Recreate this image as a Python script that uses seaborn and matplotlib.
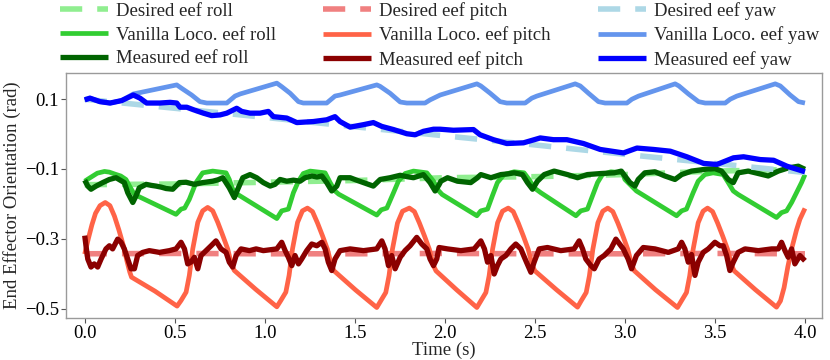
import matplotlib
matplotlib.use("Agg")
import matplotlib.pyplot as plt
import seaborn as sns
import numpy as np

# ---------------- data ----------------
# Desired trajectories
t_des = [0.0, 0.5, 1.0, 1.5, 2.0, 2.5, 3.0, 3.5, 4.0]
des_roll = [-0.145, -0.143, -0.138, -0.133, -0.125, -0.122, -0.116, -0.106, -0.101]
des_pitch = [-0.343, -0.342, -0.343, -0.343, -0.342, -0.343, -0.343, -0.342, -0.343]
des_yaw = [0.100, 0.074, 0.048, 0.021, -0.005, -0.031, -0.058, -0.084, -0.110]

# Vanilla locomotion
t_van_roll = [0.0, 0.03, 0.07, 0.11, 0.137, 0.17, 0.2, 0.229, 0.25, 0.276, 0.507,
              0.535, 0.555, 0.581, 0.618, 0.655, 0.711, 0.785, 0.803, 0.822, 0.85, 1.067,
              1.094, 1.131, 1.159, 1.187, 1.214, 1.252, 1.335, 1.363, 1.39, 1.41, 1.622,
              1.647, 1.678, 1.715, 1.742, 1.779, 1.826, 1.9, 1.937, 1.965, 1.985, 2.178,
              2.2, 2.237, 2.264, 2.292, 2.329, 2.385, 2.44, 2.468, 2.496, 2.533, 2.728,
              2.755, 2.792, 2.82, 2.848, 2.875, 2.922, 2.987, 3.0, 3.037, 3.064, 3.287,
              3.315, 3.342, 3.379, 3.407, 3.444, 3.49, 3.546, 3.574, 3.602, 3.629, 3.842,
              3.87, 3.898, 3.926, 3.953, 3.981, 4.0]
van_roll = [-0.135, -0.125, -0.112, -0.107, -0.109, -0.115, -0.120, -0.130, -0.150, -0.173, -0.230,
            -0.215, -0.212, -0.187, -0.139, -0.111, -0.106, -0.111, -0.130, -0.158, -0.173, -0.242,
            -0.220, -0.215, -0.168, -0.135, -0.113, -0.106, -0.111, -0.139, -0.163, -0.172, -0.232,
            -0.217, -0.212, -0.168, -0.135, -0.113, -0.106, -0.111, -0.135, -0.162, -0.173, -0.234,
            -0.220, -0.215, -0.177, -0.139, -0.116, -0.108, -0.111, -0.130, -0.154, -0.168, -0.234,
            -0.220, -0.215, -0.177, -0.139, -0.116, -0.108, -0.111, -0.130, -0.149, -0.163, -0.234,
            -0.220, -0.215, -0.168, -0.135, -0.116, -0.111, -0.116, -0.139, -0.163, -0.173, -0.239,
            -0.225, -0.220, -0.196, -0.168, -0.139, -0.116]

t_van_pitch = [0.0, 0.02, 0.04, 0.06, 0.085, 0.114, 0.14, 0.165, 0.19, 0.215, 0.235, 0.25, 0.26, 0.39, 0.513,
               0.535, 0.563, 0.581, 0.60, 0.628, 0.655, 0.683, 0.711, 0.739, 0.767, 0.794, 0.817, 0.831, 0.95, 1.067,
               1.089, 1.117, 1.135, 1.154, 1.182, 1.209, 1.237, 1.265, 1.293, 1.321, 1.348, 1.371, 1.385, 1.505, 1.622,
               1.644, 1.672, 1.690, 1.709, 1.737, 1.765, 1.803, 1.831, 1.859, 1.887, 1.914, 1.937, 1.951, 2.065, 2.178,
               2.20, 2.228, 2.246, 2.265, 2.293, 2.32, 2.352, 2.38, 2.408, 2.436, 2.463, 2.486, 2.50, 2.62, 2.737,
               2.757, 2.785, 2.803, 2.822, 2.85, 2.877, 2.905, 2.933, 2.961, 2.989, 3.016, 3.039, 3.053, 3.17, 3.292,
               3.314, 3.342, 3.36, 3.379, 3.407, 3.434, 3.459, 3.487, 3.515, 3.543, 3.57, 3.593, 3.607, 3.725, 3.842,
               3.864, 3.884, 3.905, 3.926, 3.953, 3.972, 4.0]
van_pitch = [-0.344, -0.300, -0.260, -0.227, -0.205, -0.196, -0.205, -0.235, -0.275, -0.320, -0.365, -0.395, -0.410, -0.450, -0.493,
             -0.477, -0.453, -0.405, -0.329, -0.253, -0.220, -0.210, -0.220, -0.253, -0.291, -0.329, -0.377, -0.391, -0.445, -0.495,
             -0.477, -0.453, -0.405, -0.329, -0.253, -0.220, -0.212, -0.222, -0.255, -0.292, -0.330, -0.377, -0.392, -0.447, -0.497,
             -0.478, -0.454, -0.406, -0.330, -0.255, -0.221, -0.212, -0.222, -0.255, -0.292, -0.330, -0.377, -0.392, -0.446, -0.497,
             -0.478, -0.454, -0.406, -0.330, -0.254, -0.221, -0.212, -0.222, -0.255, -0.292, -0.330, -0.377, -0.392, -0.446, -0.496,
             -0.478, -0.454, -0.406, -0.330, -0.254, -0.221, -0.212, -0.222, -0.255, -0.292, -0.330, -0.377, -0.392, -0.446, -0.497,
             -0.478, -0.454, -0.406, -0.330, -0.254, -0.221, -0.212, -0.222, -0.255, -0.292, -0.330, -0.377, -0.392, -0.446, -0.496,
             -0.478, -0.440, -0.380, -0.329, -0.275, -0.244, -0.213]

t_van_yaw = [0.0, 0.029, 0.085, 0.141, 0.205, 0.27, 0.511, 0.539, 0.594, 0.64, 0.678, 0.789, 0.835, 0.863,
             1.067, 1.094, 1.141, 1.187, 1.214, 1.344, 1.39, 1.418, 1.622, 1.64, 1.696, 1.752, 1.789, 1.89,
             1.918, 1.974, 2.178, 2.2, 2.252, 2.307, 2.344, 2.446, 2.483, 2.511, 2.724, 2.752, 2.798, 2.853,
             2.89, 3.011, 3.039, 3.076, 3.279, 3.3, 3.353, 3.409, 3.446, 3.557, 3.585, 3.622, 3.835, 3.863,
             3.918, 3.964, 4.0]
van_yaw = [0.098, 0.103, 0.093, 0.089, 0.096, 0.115, 0.141, 0.131, 0.112, 0.093, 0.089, 0.089, 0.109, 0.115,
           0.146, 0.136, 0.117, 0.093, 0.089, 0.089, 0.109, 0.112, 0.141, 0.137, 0.117, 0.092, 0.089, 0.089,
           0.098, 0.112, 0.144, 0.138, 0.117, 0.093, 0.089, 0.089, 0.103, 0.109, 0.144, 0.138, 0.117, 0.093,
           0.089, 0.089, 0.100, 0.109, 0.144, 0.138, 0.115, 0.093, 0.089, 0.089, 0.100, 0.109, 0.144, 0.138,
           0.112, 0.093, 0.089]

# Measured
t_meas_roll = [0.0, 0.017, 0.035, 0.063, 0.1, 0.137, 0.174, 0.22, 0.239, 0.267, 0.285, 0.303, 0.341, 0.37,
               0.396, 0.425, 0.452, 0.489, 0.526, 0.563, 0.609, 0.655, 0.711, 0.74, 0.767, 0.803, 0.831, 0.85,
               0.878, 0.918, 0.955, 0.992, 1.03, 1.057, 1.085, 1.122, 1.159, 1.196, 1.224, 1.261, 1.29, 1.317,
               1.344, 1.372, 1.4, 1.418, 1.474, 1.51, 1.548, 1.603, 1.641, 1.696, 1.752, 1.79, 1.826, 1.881,
               1.918, 1.946, 1.968, 1.978, 2.015, 2.07, 2.144, 2.181, 2.2, 2.256, 2.311, 2.35, 2.385, 2.431,
               2.459, 2.487, 2.514, 2.552, 2.607, 2.681, 2.737, 2.792, 2.866, 2.941, 2.98, 3.0, 3.028, 3.056,
               3.074, 3.111, 3.167, 3.222, 3.278, 3.315, 3.37, 3.444, 3.5, 3.537, 3.574, 3.602, 3.629, 3.685,
               3.741, 3.796, 3.852, 3.907, 3.963, 4.0]
meas_roll = [-0.132, -0.149, -0.158, -0.149, -0.139, -0.130, -0.125, -0.139, -0.168, -0.196, -0.177, -0.154, -0.144, -0.147,
             -0.149, -0.152, -0.156, -0.158, -0.139, -0.138, -0.144, -0.139, -0.135, -0.131, -0.125, -0.154, -0.182, -0.158,
             -0.125, -0.116, -0.125, -0.139, -0.149, -0.144, -0.130, -0.135, -0.132, -0.135, -0.125, -0.120, -0.123, -0.120,
             -0.139, -0.163, -0.149, -0.125, -0.125, -0.132, -0.139, -0.149, -0.130, -0.125, -0.118, -0.122, -0.125, -0.116,
             -0.139, -0.163, -0.145, -0.135, -0.125, -0.135, -0.139, -0.125, -0.116, -0.125, -0.116, -0.114, -0.111, -0.116,
             -0.139, -0.158, -0.135, -0.116, -0.106, -0.116, -0.125, -0.116, -0.113, -0.111, -0.106, -0.120, -0.139, -0.149,
             -0.130, -0.111, -0.108, -0.120, -0.130, -0.116, -0.106, -0.101, -0.099, -0.106, -0.130, -0.139, -0.111, -0.106,
             -0.113, -0.120, -0.106, -0.097, -0.092, -0.101]

t_meas_pitch = [0.0, 0.007, 0.017, 0.035, 0.053, 0.072, 0.091, 0.118, 0.137, 0.155, 0.183, 0.202, 0.22, 0.239,
                0.257, 0.276, 0.294, 0.322, 0.359, 0.415, 0.47, 0.507, 0.535, 0.554, 0.572, 0.59, 0.609, 0.628,
                0.646, 0.674, 0.702, 0.729, 0.757, 0.785, 0.803, 0.822, 0.841, 0.868, 0.915, 0.952, 0.992, 1.067,
                1.094, 1.113, 1.131, 1.15, 1.168, 1.187, 1.205, 1.233, 1.261, 1.289, 1.317, 1.335, 1.353, 1.372,
                1.39, 1.418, 1.474, 1.548, 1.622, 1.65, 1.668, 1.687, 1.705, 1.724, 1.752, 1.779, 1.807, 1.844,
                1.872, 1.9, 1.918, 1.937, 1.955, 1.968, 2.015, 2.089, 2.163, 2.2, 2.22, 2.237, 2.256, 2.274,
                2.292, 2.311, 2.339, 2.367, 2.394, 2.422, 2.45, 2.478, 2.496, 2.524, 2.57, 2.644, 2.718, 2.746,
                2.765, 2.783, 2.811, 2.83, 2.857, 2.885, 2.922, 2.95, 2.978, 2.991, 3.018, 3.037, 3.064, 3.102,
                3.167, 3.241, 3.296, 3.315, 3.333, 3.352, 3.37, 3.389, 3.407, 3.435, 3.463, 3.5, 3.528, 3.546,
                3.565, 3.583, 3.602, 3.629, 3.667, 3.741, 3.815, 3.852, 3.87, 3.889, 3.907, 3.926, 3.944, 3.972,
                4.0]
meas_pitch = [-0.291, -0.320, -0.358, -0.381, -0.372, -0.381, -0.358, -0.329, -0.320, -0.329, -0.301, -0.310, -0.329, -0.358,
              -0.386, -0.386, -0.348, -0.339, -0.334, -0.339, -0.334, -0.329, -0.310, -0.329, -0.372, -0.367, -0.353, -0.386,
              -0.348, -0.334, -0.320, -0.306, -0.329, -0.339, -0.367, -0.381, -0.348, -0.329, -0.334, -0.329, -0.334, -0.329,
              -0.310, -0.334, -0.353, -0.377, -0.348, -0.372, -0.358, -0.334, -0.315, -0.320, -0.310, -0.329, -0.367, -0.391,
              -0.358, -0.334, -0.329, -0.334, -0.329, -0.306, -0.329, -0.377, -0.348, -0.386, -0.353, -0.334, -0.320, -0.296,
              -0.315, -0.329, -0.358, -0.377, -0.358, -0.325, -0.329, -0.334, -0.329, -0.306, -0.329, -0.367, -0.348, -0.401,
              -0.377, -0.358, -0.348, -0.329, -0.315, -0.329, -0.363, -0.396, -0.367, -0.329, -0.325, -0.334, -0.329, -0.306,
              -0.329, -0.358, -0.377, -0.386, -0.358, -0.348, -0.329, -0.301, -0.320, -0.329, -0.358, -0.386, -0.348, -0.325,
              -0.329, -0.339, -0.329, -0.310, -0.329, -0.367, -0.345, -0.405, -0.367, -0.339, -0.329, -0.310, -0.320, -0.320,
              -0.348, -0.391, -0.367, -0.339, -0.329, -0.334, -0.329, -0.329, -0.310, -0.334, -0.353, -0.329, -0.372, -0.348,
              -0.363]

t_meas_yaw = [0.0, 0.029, 0.085, 0.141, 0.205, 0.27, 0.307, 0.344, 0.418, 0.474, 0.511, 0.529, 0.567, 0.603,
              0.659, 0.705, 0.752, 0.789, 0.844, 0.872, 0.918, 0.974, 1.02, 1.048, 1.122, 1.178, 1.27, 1.344,
              1.39, 1.418, 1.474, 1.548, 1.603, 1.65, 1.715, 1.789, 1.835, 1.881, 1.937, 1.974, 2.048, 2.159,
              2.196, 2.27, 2.344, 2.437, 2.53, 2.603, 2.678, 2.77, 2.863, 2.992, 3.067, 3.159, 3.252, 3.344,
              3.437, 3.511, 3.603, 3.659, 3.752, 3.826, 3.9, 4.0]
meas_yaw = [0.098, 0.103, 0.093, 0.089, 0.096, 0.112, 0.103, 0.089, 0.089, 0.091, 0.089, 0.077, 0.077, 0.070,
            0.060, 0.053, 0.055, 0.060, 0.074, 0.065, 0.060, 0.060, 0.065, 0.050, 0.046, 0.033, 0.036, 0.041,
            0.050, 0.036, 0.020, 0.027, 0.033, 0.022, 0.013, 0.001, -0.002, 0.008, 0.014, 0.014, 0.011, 0.013,
            -0.002, -0.016, -0.027, -0.025, -0.011, -0.016, -0.016, -0.027, -0.044, -0.054, -0.040, -0.044, -0.049, -0.065,
            -0.084, -0.087, -0.068, -0.065, -0.073, -0.075, -0.092, -0.108]

x_ticks = [0.0, 0.5, 1.0, 1.5, 2.0, 2.5, 3.0, 3.5, 4.0]
y_ticks = [0.1, -0.1, -0.3, -0.5]

# ---------------- style ----------------
sns.set_theme(style="ticks")
plt.rcParams["font.family"] = ["Liberation Serif", "DejaVu Serif"]
plt.rcParams["axes.edgecolor"] = "#9a9a9a"
plt.rcParams["axes.linewidth"] = 1.0
plt.rcParams["xtick.color"] = "#555555"
plt.rcParams["ytick.color"] = "#555555"
plt.rcParams["xtick.labelcolor"] = "black"
plt.rcParams["ytick.labelcolor"] = "black"

FS = 13.5
fig = plt.figure(figsize=(8.3, 3.6), dpi=100)
ax = fig.add_axes([0.0795, 0.1167, 0.9105, 0.6814])

DASH = (0, (4.0, 2.7))
LW_D, LW_V, LW_M = 4.0, 3.4, 3.8

series = [
    (t_des, des_roll, "lightgreen", DASH, LW_D, "Desired eef roll"),
    (t_van_roll, van_roll, "limegreen", "-", LW_V, "Vanilla Loco. eef roll"),
    (t_meas_roll, meas_roll, "darkgreen", "-", LW_M, "Measured eef roll"),
    (t_des, des_pitch, "lightcoral", DASH, LW_D, "Desired eef pitch"),
    (t_van_pitch, van_pitch, "tomato", "-", LW_V, "Vanilla Loco. eef pitch"),
    (t_meas_pitch, meas_pitch, "darkred", "-", LW_M, "Measured eef pitch"),
    (t_des, des_yaw, "lightblue", DASH, LW_D, "Desired eef yaw"),
    (t_van_yaw, van_yaw, "cornflowerblue", "-", LW_V, "Vanilla Loco. eef yaw"),
    (t_meas_yaw, meas_yaw, "blue", "-", LW_M, "Measured eef yaw"),
]

for tx, vy, col, ls, lw, lab in series:
    sns.lineplot(x=np.array(tx), y=np.array(vy), ax=ax, color=col, linestyle=ls,
                 linewidth=lw, label=lab, sort=False, estimator=None,
                 solid_joinstyle="round", solid_capstyle="butt")

ax.set_xlim(-0.104, 4.093)
ax.set_ylim(-0.527, 0.176)
ax.set_xticks(x_ticks)
ax.set_xticklabels([f"{v:.1f}" for v in x_ticks])
ax.set_yticks(y_ticks)
ax.set_yticklabels([f"{v:.1f}".replace("-", "\u2212") for v in y_ticks])
ax.tick_params(axis="both", labelsize=FS, length=3.5, width=0.8, pad=1.5)
ax.set_xlabel("Time (s)", fontsize=FS, labelpad=-0.5)
ax.set_ylabel("End Effector Orientation (rad)", fontsize=FS, labelpad=3)
for s in ax.spines.values():
    s.set_visible(True)

handles, labels = ax.get_legend_handles_labels()
ax.get_legend().remove()
fig.legend(handles, labels, loc="upper left", bbox_to_anchor=(0.0723, 0.995),
           ncol=3, frameon=False, fontsize=FS, handlelength=2.56,
           handletextpad=0.43, columnspacing=2.5, labelspacing=0.36,
           borderpad=0.0, borderaxespad=0.0)

fig.savefig("out.png", dpi=100)
